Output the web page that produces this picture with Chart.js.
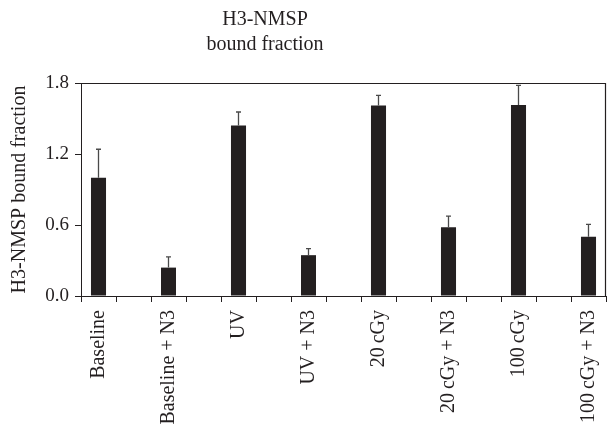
<!DOCTYPE html>
<html>
<head>
<meta charset="utf-8">
<script src="https://cdn.jsdelivr.net/npm/chart.js@4.4.0/dist/chart.umd.min.js"></script>
<style>
  html, body { margin: 0; padding: 0; background: #fff; }
</style>
</head>
<body>
<canvas id="myChart" width="607" height="430"></canvas>
<script>
// groups, in the order on the x axis (an empty slot sits between each pair)
const groups = ['Baseline', 'Baseline + N3', 'UV', 'UV + N3', '20\u2009cGy', '20\u2009cGy + N3', '100\u2009cGy', '100\u2009cGy + N3']
const boundFraction = [1.0, 0.24, 1.44, 0.345, 1.61, 0.58, 1.615, 0.5]
const errorUp = [0.24, 0.09, 0.115, 0.055, 0.085, 0.095, 0.165, 0.105]
const yTicks = [0, 0.6, 1.2, 1.8]
const titleLines = ['H3-NMSP', 'bound fraction']
const yTitle = 'H3-NMSP bound fraction'

const serif = "'Liberation Serif', 'Times New Roman', serif"
const ink = '#231f20'

// spread groups over slots, blank slot between them
var labels = []
var values = []
var errs = []
groups.forEach(function (g, i) {
  labels.push(g)
  values.push(boundFraction[i])
  errs.push(errorUp[i])
  if (i < groups.length - 1) {
    labels.push('')
    values.push(null)
    errs.push(null)
  }
})

// upward error bars + frame + title
const extras = {
  id: 'extras',
  afterDatasetsDraw: function (chart) {
    var ctx = chart.ctx
    var y = chart.scales.y
    var meta = chart.getDatasetMeta(0)
    ctx.save()
    ctx.strokeStyle = '#4a4a4a'
    ctx.lineWidth = 1.3
    meta.data.forEach(function (bar, i) {
      if (values[i] == null) return
      var top = y.getPixelForValue(values[i] + errs[i])
      ctx.beginPath()
      ctx.moveTo(bar.x, bar.y)
      ctx.lineTo(bar.x, top)
      ctx.moveTo(bar.x - 2.5, top)
      ctx.lineTo(bar.x + 2.5, top)
      ctx.stroke()
    })
    ctx.restore()
  },
  afterDraw: function (chart) {
    var ctx = chart.ctx
    var a = chart.chartArea
    ctx.save()
    ctx.strokeStyle = ink
    ctx.lineWidth = 1.2
    ctx.beginPath()
    ctx.moveTo(Math.round(a.left), Math.round(a.top) + 0.5)
    ctx.lineTo(Math.round(a.right) - 0.5, Math.round(a.top) + 0.5)
    ctx.lineTo(Math.round(a.right) - 0.5, Math.round(a.bottom))
    ctx.stroke()
    ctx.fillStyle = ink
    ctx.font = '20px ' + serif
    ctx.textAlign = 'center'
    ctx.textBaseline = 'middle'
    titleLines.forEach(function (t, i) {
      ctx.fillText(t, 265, 20 + i * 25)
    })
    ctx.restore()
  }
}

new Chart(document.getElementById('myChart'), {
  type: 'bar',
  data: {
    labels: labels,
    datasets: [{
      data: values,
      backgroundColor: ink,
      borderWidth: 0,
      barPercentage: 0.43,
      categoryPercentage: 1
    }]
  },
  options: {
    responsive: false,
    animation: false,
    devicePixelRatio: 1,
    layout: { padding: { top: 83, right: 1, left: 0, bottom: 0 } },
    plugins: {
      legend: { display: false },
      tooltip: { enabled: false },
      title: { display: false }
    },
    scales: {
      x: {
        offset: true,
        grid: { offset: true, drawOnChartArea: false, drawTicks: true, tickLength: 6, color: ink },
        border: { display: true, color: ink, width: 1 },
        ticks: {
          autoSkip: false,
          maxRotation: 90,
          minRotation: 90,
          padding: 8,
          color: ink,
          font: { family: serif, size: 20 }
        },
        afterFit: function (s) {
          s.height = 134
          s.paddingLeft = 0
          s.paddingRight = 0
        }
      },
      y: {
        min: 0,
        max: 1.8,
        afterBuildTicks: function (s) { s.ticks = yTicks.map(function (v) { return { value: v } }) },
        grid: { drawOnChartArea: false, drawTicks: true, tickLength: 6, color: ink },
        border: { display: true, color: ink, width: 1 },
        ticks: {
          padding: 6,
          color: ink,
          font: { family: serif, size: 19 },
          callback: function (v) { return Number(v).toFixed(1) }
        },
        title: {
          display: true,
          text: yTitle,
          color: ink,
          font: { family: serif, size: 20 },
          padding: { top: 8, bottom: 0 }
        },
        afterFit: function (s) {
          s.width = 81
          s.paddingTop = 0
          s.paddingBottom = 0
        }
      }
    }
  },
  plugins: [extras]
})
</script>
</body>
</html>
